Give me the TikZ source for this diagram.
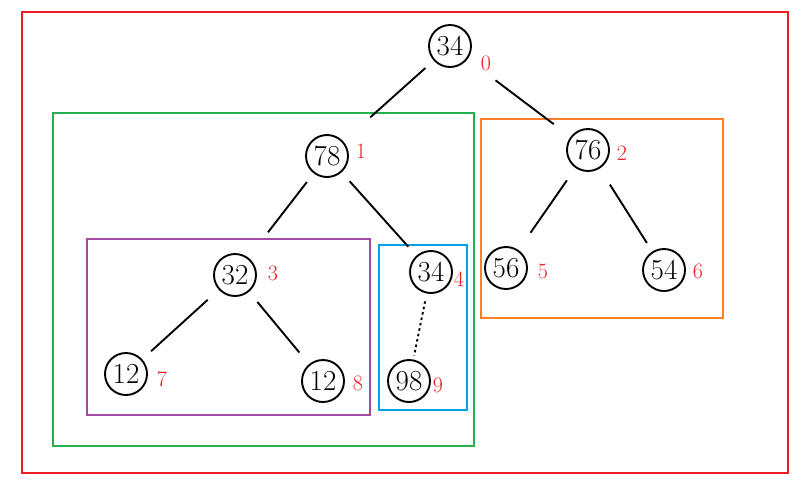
\documentclass[tikz,border=0pt]{standalone}
\definecolor{paintred}{RGB}{237,28,36}
\definecolor{paintgreen}{RGB}{34,177,76}
\definecolor{paintorange}{RGB}{255,127,39}
\definecolor{paintpurple}{RGB}{163,73,164}
\definecolor{paintblue}{RGB}{0,162,232}
\begin{document}
\begin{tikzpicture}[x=1pt,y=-1pt,
  key/.style={draw,circle,inner sep=0pt,line width=1.9pt,minimum size=42pt,font=\fontsize{29}{31}\selectfont},
  idx/.style={inner sep=0pt,text=paintred,font=\fontsize{22}{24}\selectfont},
  link/.style={line width=1.9pt},
  box/.style={line width=1.8pt}]
\useasboundingbox (0,0) rectangle (803,483);
    \draw[box,paintred] (22,12) rectangle (788,473);
    \draw[box,paintgreen] (53,113) rectangle (474,446);
    \draw[box,paintorange] (481,119) rectangle (723,318);
    \draw[box,paintpurple] (87,239) rectangle (370,415);
    \draw[box,paintblue] (379,245) rectangle (467,410);
    \node[key] (k0) at (450,46) {34};
    \node[key] (k1) at (327,156) {78};
    \node[key] (k2) at (588,150) {76};
    \node[key] (k3) at (235,275) {32};
    \node[key] (k4) at (431,272) {34};
    \node[key] (k5) at (506,268) {56};
    \node[key] (k6) at (664,270) {54};
    \node[key] (k7) at (126,374) {12};
    \node[key] (k8) at (323,381) {12};
    \node[key] (k9) at (409,381) {98};
    \node[idx] (i0) at (486,63) {0};
    \node[idx] (i1) at (361,151) {1};
    \node[idx] (i2) at (622,153) {2};
    \node[idx] (i3) at (273,273) {3};
    \node[idx] (i4) at (459,279) {4};
    \node[idx] (i5) at (543,271) {5};
    \node[idx] (i6) at (698,271) {6};
    \node[idx] (i7) at (162,379) {7};
    \node[idx] (i8) at (358,383) {8};
    \node[idx] (i9) at (438,385) {9};
    \draw[link,shorten <=11pt,shorten >=36pt] (k0) -- (k1);
    \draw[link,shorten <=35pt,shorten >=21pt] (k0) -- (k2);
    \draw[link,shorten <=11pt,shorten >=32pt] (k1) -- (k3);
    \draw[link,shorten <=12pt,shorten >=12pt] (k1) -- (k4);
    \draw[link,shorten <=15pt,shorten >=21pt] (k2) -- (k5);
    \draw[link,shorten <=19pt,shorten >=10pt] (k2) -- (k6);
    \draw[link,shorten <=15pt,shorten >=12pt] (k3) -- (k7);
    \draw[link,shorten <=13pt,shorten >=15pt] (k3) -- (k8);
    \draw[link,dash pattern=on 2.5pt off 3pt,shorten <=8pt,shorten >=4pt] (k4) -- (k9);
\end{tikzpicture}
\end{document}
